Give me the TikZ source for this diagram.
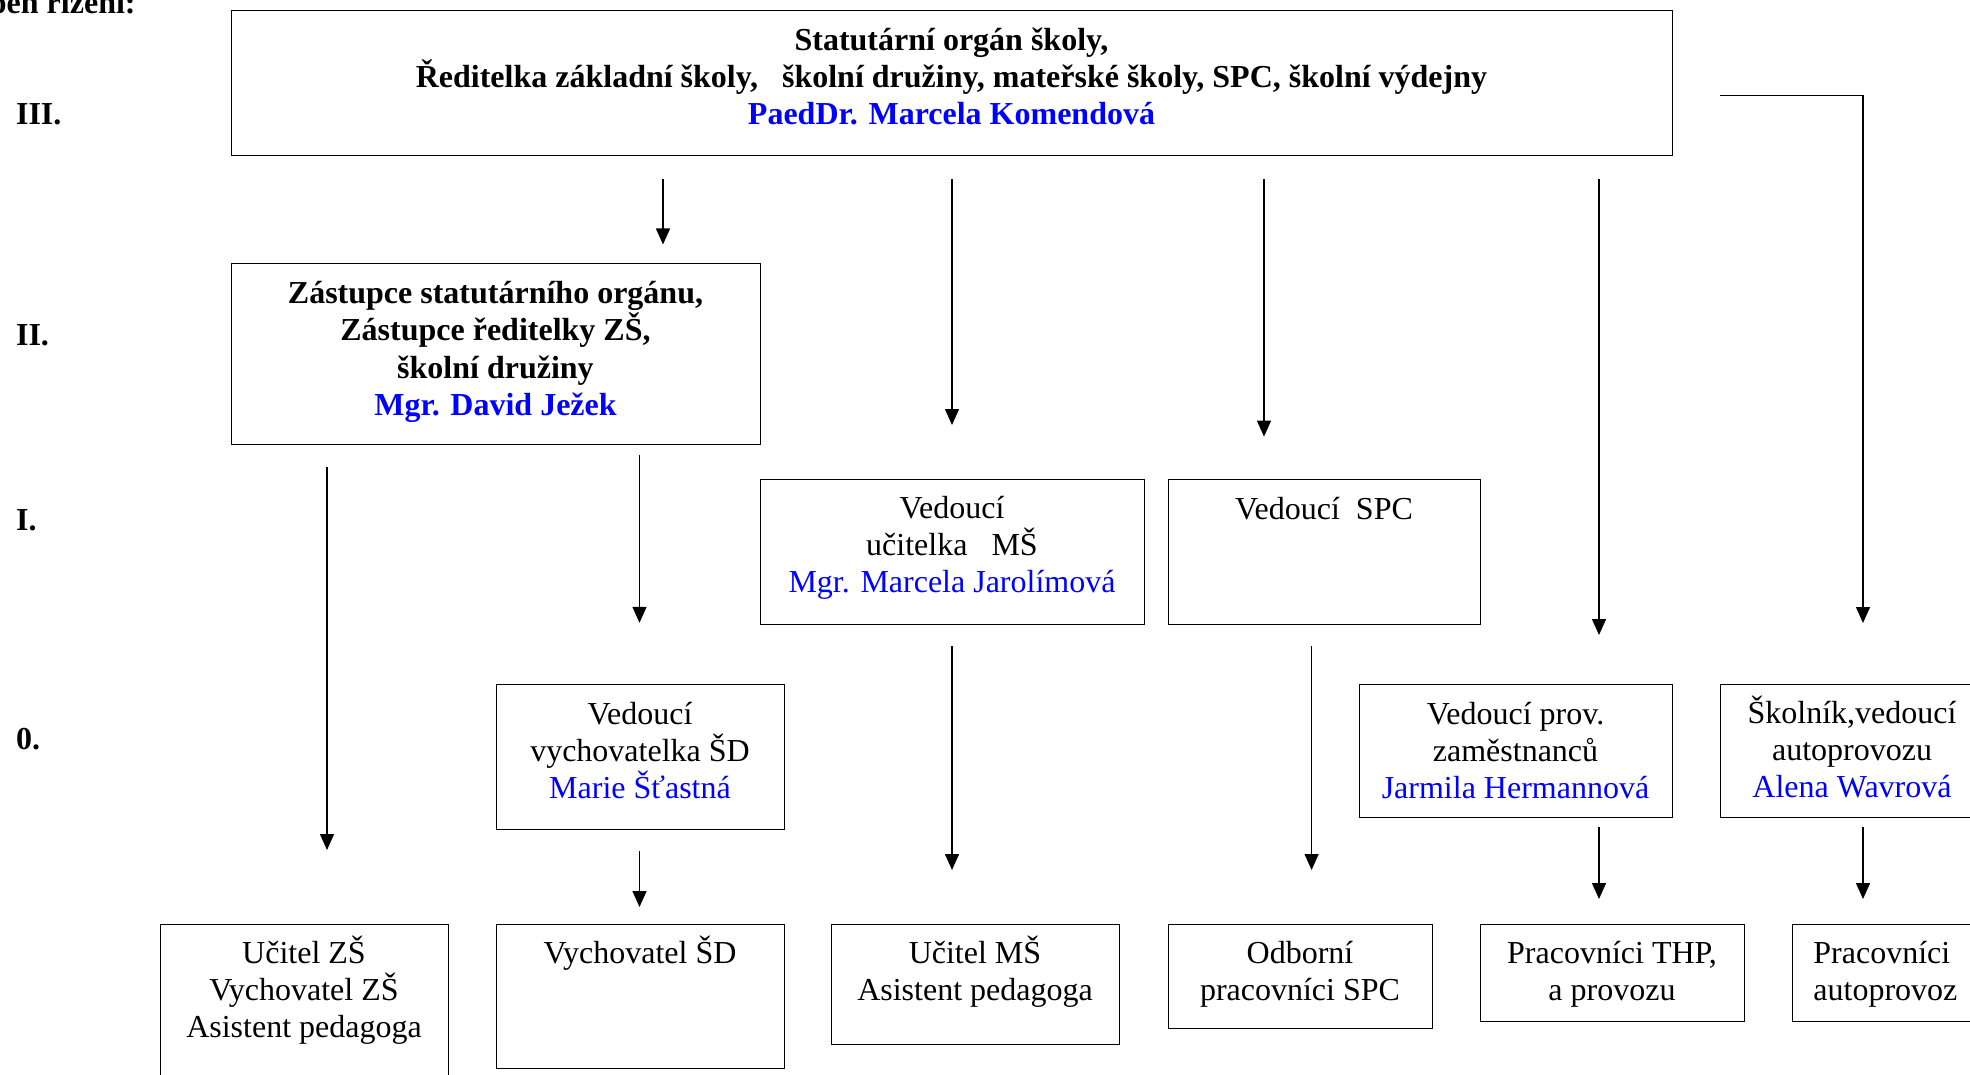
\documentclass[tikz,border=0pt]{standalone}
\usepackage{fontspec}
\setmainfont{Liberation Serif}
\usetikzlibrary{arrows.meta}
\definecolor{jmeno}{RGB}{0,0,255}
\def\jm#1{\textcolor{jmeno}{#1}}

\begin{document}
\begin{tikzpicture}[x=0.5pt,y=-0.5pt,
	box/.style={draw,line width=0.7pt,inner sep=0pt,anchor=north west},
	txt/.style={align=center,inner sep=0pt,anchor=base,font=\fontsize{16pt}{18.5pt}\selectfont},
	lvl/.style={inner sep=0pt,anchor=base west,font=\fontsize{16pt}{18.5pt}\selectfont\bfseries},
	arr/.style={-{Triangle[length=8pt,width=7pt]},line width=0.7pt}]
\useasboundingbox (0,0) rectangle (1970,1075);
\clip (0,0) rectangle (1970,1075);
% stupne rizeni
\node[lvl,anchor=base east] (stupen) at (136,14) {Stupeň řízení:};
\node[lvl] (lv3) at (15.7,124.7) {III.};
\node[lvl] (lv2) at (15.7,345) {II.};
\node[lvl] (lv1) at (15.7,530) {I.};
\node[lvl] (lv0) at (15.7,749) {0.};
% ramecky
\node[box,minimum width=720.5pt,minimum height=72.5pt] (statut) at (231,10) {};
\node[box,minimum width=264.5pt,minimum height=90.5pt] (zast) at (231,263) {};
\node[box,minimum width=192pt,minimum height=72.25pt] (vedms) at (760,479) {};
\node[box,minimum width=156pt,minimum height=72.25pt] (vedspc) at (1168,479) {};
\node[box,minimum width=144pt,minimum height=72.5pt] (vedsd) at (496,684) {};
\node[box,minimum width=156.5pt,minimum height=66.5pt] (vedprov) at (1359,684) {};
\node[box,minimum width=132pt,minimum height=66.5pt] (skolnik) at (1720,684) {};
\node[box,minimum width=144pt,minimum height=100pt] (uczs) at (160,924) {};
\node[box,minimum width=144pt,minimum height=72pt] (vychsd) at (496,924) {};
\node[box,minimum width=144pt,minimum height=60pt] (ucms) at (831,924) {};
\node[box,minimum width=132pt,minimum height=52pt] (odbspc) at (1168,924) {};
\node[box,minimum width=132pt,minimum height=48.25pt] (prathp) at (1480,924) {};
\node[box,minimum width=100pt,minimum height=48.25pt] (praaut) at (1792,924) {};
% texty (poloha = posledni radek)
\node[txt,font=\fontsize{16pt}{18.5pt}\selectfont\bfseries] (statut-t) at (951.5,124.5)
	{Statutární orgán školy,\\ Ředitelka základní školy,~~ školní družiny, mateřské školy, SPC, školní výdejny\\ \jm{PaedDr. Marcela Komendová}};
\node[txt,font=\fontsize{16pt}{18.5pt}\selectfont\bfseries] (zast-t) at (495.5,415)
	{Zástupce statutárního orgánu,\\ Zástupce ředitelky ZŠ,\\ školní družiny\\ \jm{Mgr. David Ježek}};
\node[txt] (vedms-t) at (952,592) {Vedoucí\\ učitelka~~ MŠ\\ \jm{Mgr. Marcela Jarolímová}};
\node[txt] (vedspc-t) at (1324,519) {Vedoucí~ SPC};
\node[txt] (vedsd-t) at (640,798) {Vedoucí\\ vychovatelka ŠD\\ \jm{Marie Šťastná}};
\node[txt] (vedprov-t) at (1515.5,798) {Vedoucí prov.\\ zaměstnanců\\ \jm{Jarmila Hermannová}};
\node[txt] (skolnik-t) at (1852,797) {Školník,vedoucí\\ autoprovozu\\ \jm{Alena Wavrová}};
\node[txt] (uczs-t) at (304,1037.7) {Učitel ZŠ\\ Vychovatel ZŠ\\ Asistent pedagoga};
\node[txt] (vychsd-t) at (640,963.7) {Vychovatel ŠD};
\node[txt] (ucms-t) at (975,1000.7) {Učitel MŠ\\ Asistent pedagoga};
\node[txt] (odbspc-t) at (1300,1000.7) {Odborní\\ pracovníci SPC};
\node[txt] (prathp-t) at (1612,1000.7) {Pracovníci THP,\\ a provozu};
\node[txt,align=left,anchor=base west] (praaut-t) at (1813,1000.7) {Pracovníci\\ autoprovoz};
% sipky
\foreach \n/\x/\ya/\yb in {a/663/179/244.5, b/952/179/425, c/1264/179/436.6, d/1599/179/635,
	f/327/467/850, g/639.5/454.5/622.8, h/952/646/870, i/1311.6/646/870,
	j/639.5/851/907, k/1599/827/899, l/1863/827/899}
{
	\coordinate (\n-s) at (\x,\ya);
	\coordinate (\n-e) at (\x,\yb);
	\draw[arr] (\n-s) -- (\n-e);
}
\coordinate (e-s) at (1720,95.4);
\coordinate (e-e) at (1863,623);
\draw[arr] (e-s) -| (e-e);
\end{tikzpicture}
\end{document}
